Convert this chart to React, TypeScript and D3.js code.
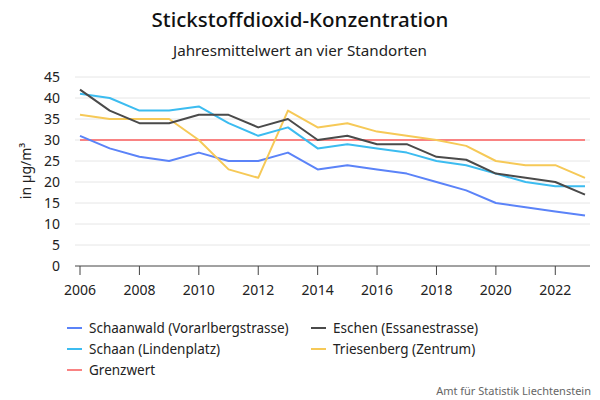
import React from 'react';
import { line, scaleLinear } from 'd3';

const years = [
  2006, 2007, 2008, 2009, 2010, 2011, 2012, 2013, 2014, 2015, 2016, 2017, 2018,
  2019, 2020, 2021, 2022, 2023,
];
const schaanwald = [31, 28, 26, 25, 27, 25, 25, 27, 23, 24, 23, 22, 20, 18, 15, 14, 13, 12];
const eschen = [42, 37, 34, 34, 36, 36, 33, 35, 30, 31, 29, 29, 26, 25.3, 22, 21, 20, 17];
const schaan = [41, 40, 37, 37, 38, 34, 31, 33, 28, 29, 28, 27, 25, 24, 22, 20, 19, 19];
const triesenberg = [36, 35, 35, 35, 30, 23, 21, 37, 33, 34, 32, 31, 30, 28.6, 25, 24, 24, 21];
const grenzwert = years.map(() => 30);

const yTicks = [0, 5, 10, 15, 20, 25, 30, 35, 40, 45];
const xTicks = [2006, 2008, 2010, 2012, 2014, 2016, 2018, 2020, 2022];

const series = [
  { name: 'Schaanwald (Vorarlbergstrasse)', values: schaanwald, color: '#5b83f8' },
  { name: 'Eschen (Essanestrasse)', values: eschen, color: '#4a4a4a' },
  { name: 'Schaan (Lindenplatz)', values: schaan, color: '#3cbcf0' },
  { name: 'Triesenberg (Zentrum)', values: triesenberg, color: '#f6c957' },
  { name: 'Grenzwert', values: grenzwert, color: '#f98383' },
];

const font = '"Noto Sans", sans-serif';

export default function App() {
  const x = scaleLinear().domain([2006, 2023]).range([80, 585]);
  const y = scaleLinear().domain([0, 45]).range([266, 77]);
  const path = line<number>()
    .x((_, i) => x(years[i]))
    .y((d) => y(d));

  // draw order: Grenzwert under the others
  const drawOrder = [series[4], series[0], series[3], series[2], series[1]];

  return (
    <svg
      width={600}
      height={400}
      style={{ position: 'absolute', left: 0, top: 0, background: '#fff' }}
      fontFamily={font}
    >
      <text x={300} y={27} textAnchor="middle" fontSize={20.5} fontWeight={500} fill="#111">
        Stickstoffdioxid-Konzentration
      </text>
      <text x={300} y={56} textAnchor="middle" fontSize={15.2} fill="#222">
        Jahresmittelwert an vier Standorten
      </text>

      {yTicks.map((t) => (
        <g key={t}>
          {t > 0 && (
            <line x1={75} x2={590} y1={y(t)} y2={y(t)} stroke="#e6e6e6" strokeWidth={1} />
          )}
          <text x={60} y={y(t)} dy="0.35em" textAnchor="end" fontSize={14} fill="#222">
            {t}
          </text>
        </g>
      ))}

      <text
        transform={`translate(31, 171) rotate(-90)`}
        textAnchor="middle"
        fontSize={14}
        fill="#222"
      >
        in µg/m³
      </text>

      <line x1={75} x2={590} y1={y(0)} y2={y(0)} stroke="#444" strokeWidth={1} />
      {xTicks.map((t) => (
        <g key={t}>
          <line x1={x(t)} x2={x(t)} y1={y(0)} y2={y(0) + 9} stroke="#444" strokeWidth={1} />
          <text x={x(t)} y={295} textAnchor="middle" fontSize={14} fill="#222">
            {t}
          </text>
        </g>
      ))}

      {drawOrder.map((s) => (
        <path
          key={s.name}
          d={path(s.values) ?? ''}
          fill="none"
          stroke={s.color}
          strokeWidth={2}
          strokeLinejoin="round"
        />
      ))}

      {series.map((s, i) => {
        const col = i === 4 ? 0 : i % 2;
        const row = i === 4 ? 2 : Math.floor(i / 2);
        const lx = col === 0 ? 67 : 311;
        const ly = 328 + row * 21;
        return (
          <g key={s.name}>
            <line x1={lx} x2={lx + 15} y1={ly} y2={ly} stroke={s.color} strokeWidth={2} />
            <text x={lx + 22} y={ly} dy="0.35em" fontSize={13.5} fill="#222">
              {s.name}
            </text>
          </g>
        );
      })}

      <text x={591} y={395} textAnchor="end" fontSize={11} fill="#666">
        Amt für Statistik Liechtenstein
      </text>
    </svg>
  );
}
